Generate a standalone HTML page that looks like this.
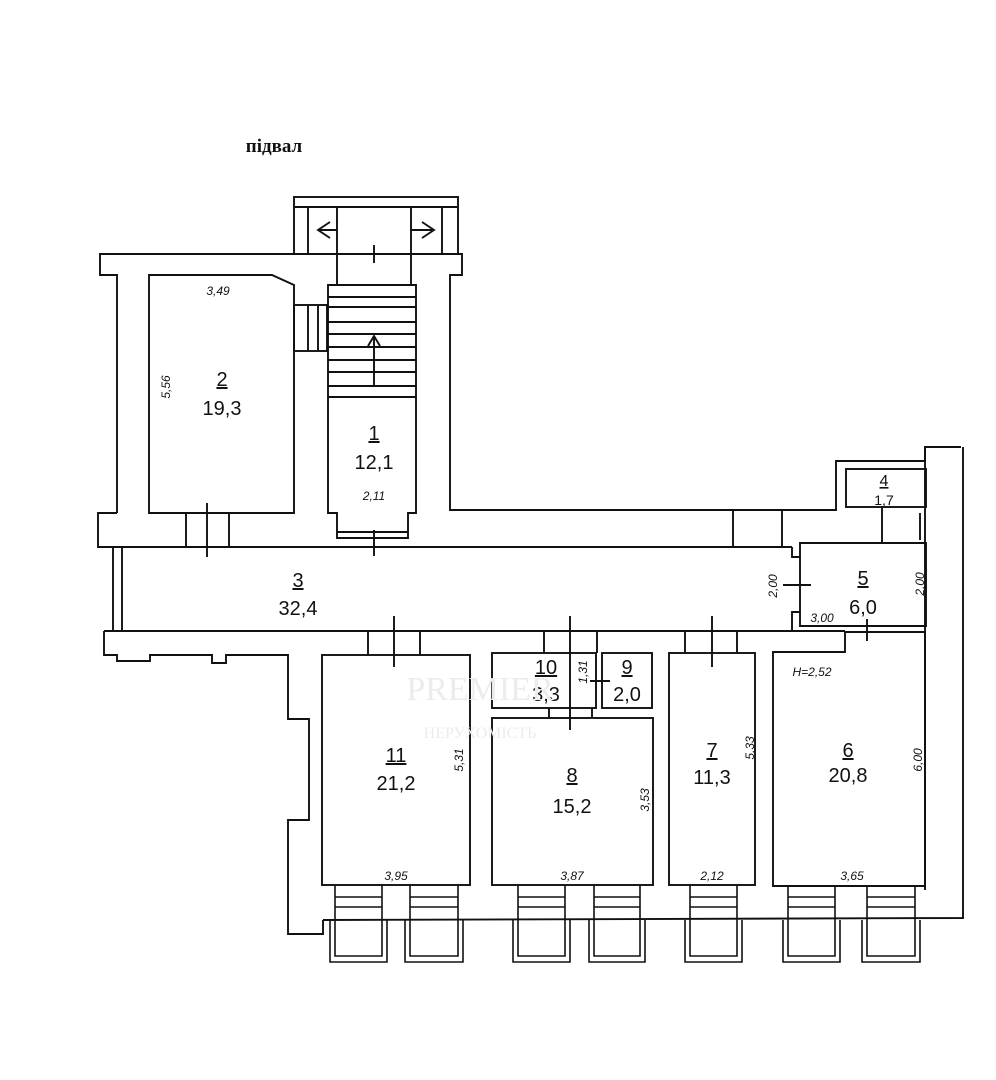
<!DOCTYPE html>
<html><head><meta charset="utf-8"><style>
html,body{margin:0;padding:0;background:#fff;}
svg{display:block;}
text{font-family:"Liberation Sans",sans-serif;fill:#111;}
.a{font-size:20px;text-anchor:middle;}
.d{font-size:12px;font-style:italic;text-anchor:middle;}
</style></head><body>
<svg width="996" height="1080" viewBox="0 0 996 1080" xmlns="http://www.w3.org/2000/svg">
<g fill="none" stroke="#111" stroke-width="1.9">
<rect x="294" y="197" width="164" height="57"/>
<line x1="294" y1="207" x2="458" y2="207"/>
<line x1="308" y1="207" x2="308" y2="254"/>
<line x1="442" y1="207" x2="442" y2="254"/>
<line x1="337" y1="207" x2="337" y2="285"/>
<line x1="411" y1="207" x2="411" y2="285"/>
<line x1="374" y1="245" x2="374" y2="263"/>
<path d="M318 230 L337 230 M330 222 L318 230 L330 238"/>
<path d="M411 230 L432 230 M422 222 L434 230 L422 238"/>
<path d="M117 513 L117 275 L100 275 L100 254 L462 254 L462 275 L450 275 L450 510 L836 510 L836 461 L925 461 L925 447 L961 447"/>
<path d="M963 447 L963 918 L323 920"/>
<path d="M925 447 L925 890"/>
<path d="M149 275 L272 275 L294 285 L294 513 L149 513 Z"/>
<rect x="294" y="305" width="33" height="46"/>
<line x1="308" y1="305" x2="308" y2="351"/>
<line x1="318" y1="305" x2="318" y2="351"/>
<path d="M328 285 L416 285 L416 513 L408 513 L408 538 L337 538 L337 513 L328 513 Z"/>
<path d="M328 297H416M328 307H416M328 322H416M328 334H416M328 347H416M328 360H416M328 372H416M328 386H416M328 397H416"/>
<path d="M374 386 L374 337 M368 346 L374 336 L380 346"/>
<line x1="337" y1="532" x2="408" y2="532"/>
<line x1="374" y1="530" x2="374" y2="556"/>
<path d="M117 513 L98 513 L98 547 L792 547"/>
<line x1="113" y1="547" x2="113" y2="631"/>
<line x1="122" y1="547" x2="122" y2="631"/>
<path d="M104 631 L792 631"/>
<path d="M104 631 L104 655 L117 655 L117 661 L150 661 L150 655 L212 655 L212 663 L226 663 L226 655 L288 655 L288 719 L309 719 L309 820 L288 820 L288 934 L323 934 L323 920"/>
<line x1="186" y1="513" x2="186" y2="547"/>
<line x1="229" y1="513" x2="229" y2="547"/>
<line x1="207" y1="503" x2="207" y2="557"/>
<line x1="733" y1="510" x2="733" y2="547"/>
<line x1="782" y1="510" x2="782" y2="547"/>
<rect x="846" y="469" width="80" height="38"/>
<line x1="882" y1="508" x2="882" y2="543"/>
<line x1="920" y1="513" x2="920" y2="540"/>
<path d="M800 543 L926 543 L926 626 L800 626 Z"/>
<path d="M792 547 L792 557 L800 557 M792 631 L792 612 L800 612"/>
<line x1="783" y1="585" x2="811" y2="585"/>
<path d="M792 631 L845 631 M845 632 L926 632"/>
<line x1="867" y1="619" x2="867" y2="641"/>
<path d="M845 632 L845 652 L773 652 L773 886 L925 886 L925 632"/>
<rect x="322" y="655" width="148" height="230"/>
<line x1="368" y1="631" x2="368" y2="655"/>
<line x1="420" y1="631" x2="420" y2="655"/>
<line x1="394" y1="616" x2="394" y2="667"/>
<rect x="492" y="653" width="104" height="55"/>
<rect x="602" y="653" width="50" height="55"/>
<rect x="492" y="718" width="161" height="167"/>
<line x1="544" y1="631" x2="544" y2="653"/>
<line x1="597" y1="631" x2="597" y2="653"/>
<line x1="570" y1="616" x2="570" y2="730"/>
<line x1="549" y1="708" x2="549" y2="718"/>
<line x1="592" y1="708" x2="592" y2="718"/>
<line x1="590" y1="681" x2="610" y2="681"/>
<rect x="669" y="653" width="86" height="232"/>
<line x1="685" y1="631" x2="685" y2="653"/>
<line x1="737" y1="631" x2="737" y2="653"/>
<line x1="712" y1="616" x2="712" y2="667"/>
</g>
<g fill="none" stroke="#111" stroke-width="1.6">
<path d="M335 885V920M382 885V920M335 897H382M335 907H382M330 920V962H387V920M335 920V956H382V920"/>
<path d="M410 885V920M458 885V920M410 897H458M410 907H458M405 920V962H463V920M410 920V956H458V920"/>
<path d="M518 885V920M565 885V920M518 897H565M518 907H565M513 920V962H570V920M518 920V956H565V920"/>
<path d="M594 885V920M640 885V920M594 897H640M594 907H640M589 920V962H645V920M594 920V956H640V920"/>
<path d="M690 885V920M737 885V920M690 897H737M690 907H737M685 920V962H742V920M690 920V956H737V920"/>
<path d="M788 885V920M835 885V920M788 897H835M788 907H835M783 920V962H840V920M788 920V956H835V920"/>
<path d="M867 885V920M915 885V920M867 897H915M867 907H915M862 920V962H920V920M867 920V956H915V920"/>
</g>
<text x="274" y="152" style="font-family:'Liberation Serif',serif;font-size:19px;font-weight:bold;text-anchor:middle">підвал</text>
<g>
<text class="d" x="218" y="295">3,49</text>
<text class="d" transform="translate(170,387) rotate(-90)">5,56</text>
<text class="a" x="222" y="386" text-decoration="underline">2</text>
<text class="a" x="222" y="415">19,3</text>
<text class="a" x="374" y="440" text-decoration="underline">1</text>
<text class="a" x="374" y="469">12,1</text>
<text class="d" x="374" y="500">2,11</text>
<text class="a" x="298" y="587" text-decoration="underline">3</text>
<text class="a" x="298" y="615">32,4</text>
<text class="d" transform="translate(777,586) rotate(-90)">2,00</text>
<text class="a" x="863" y="585" text-decoration="underline">5</text>
<text class="a" x="863" y="614">6,0</text>
<text class="d" transform="translate(924,584) rotate(-90)">2,00</text>
<text class="d" x="822" y="622">3,00</text>
<text class="a" x="884" y="486" style="font-size:16px" text-decoration="underline">4</text>
<text class="a" x="884" y="505" style="font-size:14px">1,7</text>
<text class="a" x="546" y="674" text-decoration="underline">10</text>
<text class="a" x="546" y="701">3,3</text>
<text class="a" x="627" y="674" text-decoration="underline">9</text>
<text class="a" x="627" y="701">2,0</text>
<text class="d" transform="translate(587,672) rotate(-90)">1,31</text>
<text class="a" x="396" y="762" text-decoration="underline">11</text>
<text class="a" x="396" y="790">21,2</text>
<text class="d" transform="translate(463,760) rotate(-90)">5,31</text>
<text class="a" x="572" y="782" text-decoration="underline">8</text>
<text class="a" x="572" y="813">15,2</text>
<text class="d" transform="translate(649,800) rotate(-90)">3,53</text>
<text class="a" x="712" y="757" text-decoration="underline">7</text>
<text class="a" x="712" y="784">11,3</text>
<text class="d" transform="translate(754,748) rotate(-90)">5,33</text>
<text class="a" x="848" y="757" text-decoration="underline">6</text>
<text class="a" x="848" y="782">20,8</text>
<text class="d" transform="translate(922,760) rotate(-90)">6,00</text>
<text class="d" x="812" y="676">H=2,52</text>
<text class="d" x="396" y="880">3,95</text>
<text class="d" x="572" y="880">3,87</text>
<text class="d" x="712" y="880">2,12</text>
<text class="d" x="852" y="880">3,65</text>
<text x="480" y="700" style="font-family:'Liberation Serif',serif;font-size:34px;fill:#ececec;text-anchor:middle">PREMIER</text>
<text x="480" y="738" style="font-family:'Liberation Serif',serif;font-size:16px;fill:#ececec;text-anchor:middle">НЕРУХОМІСТЬ</text>
</g>
</svg>
</body></html>
